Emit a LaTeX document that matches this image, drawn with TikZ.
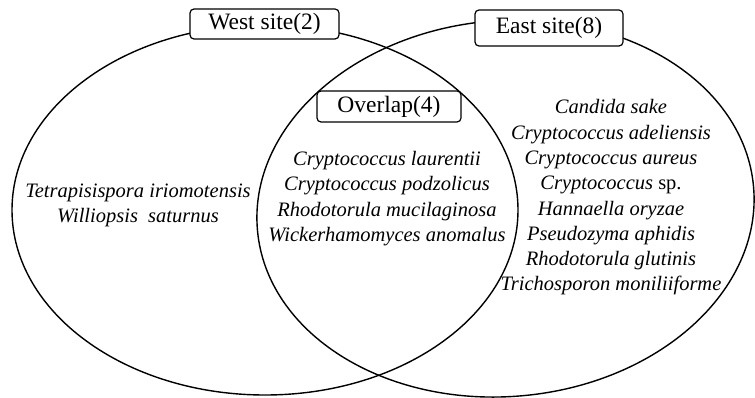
\documentclass[tikz,border=0pt]{standalone}
\usepackage{fontspec}
\setmainfont{Liberation Serif}

\begin{document}
\begin{tikzpicture}
  [x=1pt,y=-1pt,line width=1.4pt,
   sitebox/.style={draw,fill=white,rounded corners=4pt,line width=1.2pt,inner sep=0pt,font=\fontsize{23.5}{28}\selectfont},
   species/.style={align=center,font=\itshape\fontsize{20.5}{25.3}\selectfont}]

  \useasboundingbox (0,0) rectangle (755,398);
  \draw (265,210) ellipse [x radius=253,y radius=185];
  \draw[rotate around={5:(505.5,208.5)}] (505.5,208.5) ellipse [x radius=249,y radius=188];

  \node[sitebox,minimum width=149pt,minimum height=30pt] (west) at (264.5,24) {West site(2)};
  \node[sitebox,minimum width=148pt,minimum height=36pt] (east) at (549,28) {East site(8)};
  \node[sitebox,minimum width=144pt,minimum height=31pt] (overlap) at (389,106.5) {Overlap(4)};

  \node[species] (westlist) at (138,205.5) {Tetrapisispora iriomotensis\\Williopsis\ \ saturnus};
  \node[species] (overlaplist) at (387,198.5) {Cryptococcus laurentii\\Cryptococcus podzolicus\\Rhodotorula mucilaginosa\\Wickerhamomyces anomalus};
  \node[species] (eastlist) at (611,197.5) {Candida sake\\Cryptococcus adeliensis\\Cryptococcus aureus\\Cryptococcus \textup{sp.}\\Hannaella oryzae\\Pseudozyma aphidis\\Rhodotorula glutinis\\Trichosporon moniliiforme};
\end{tikzpicture}
\end{document}
